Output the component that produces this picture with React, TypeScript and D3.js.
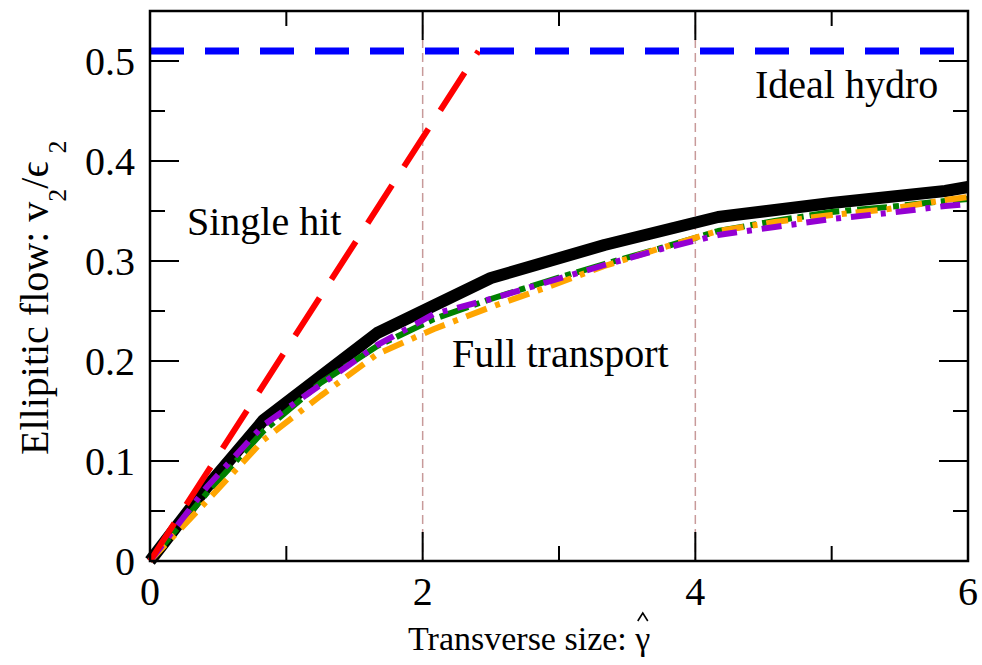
import { useEffect, useRef } from "react";
import * as d3 from "d3";

// axis ticks
const xMajor = [0, 2, 4, 6];
const xMinor = [1, 3, 5];
const yMajor = [0, 0.1, 0.2, 0.3, 0.4, 0.5];
const yMinor = [0.05, 0.15, 0.25, 0.35, 0.45];
const yLabels = ["0", "0.1", "0.2", "0.3", "0.4", "0.5"];

// black: thick curve
const blackX = [0, 0.417, 0.833, 1.667, 2.5, 3.333, 4.167, 5, 5.833, 6];
const blackY = [0, 0.074, 0.141, 0.228, 0.283, 0.316, 0.344, 0.358, 0.37, 0.374];

// full transport curves
const curveX = [0, 0.417, 0.833, 1.25, 1.667, 2.083, 2.5, 2.917, 3.333, 3.75, 4.167, 4.583, 5, 5.417, 5.833, 6];
const greenY = [0, 0.068, 0.13, 0.178, 0.215, 0.242, 0.262, 0.28, 0.297, 0.313, 0.33, 0.34, 0.349, 0.354, 0.36, 0.362];
const orangeY = [0, 0.06, 0.121, 0.165, 0.207, 0.232, 0.254, 0.274, 0.295, 0.313, 0.33, 0.339, 0.346, 0.352, 0.361, 0.364];
const purpleY = [0, 0.074, 0.136, 0.176, 0.216, 0.247, 0.262, 0.279, 0.296, 0.312, 0.326, 0.334, 0.342, 0.348, 0.355, 0.357];

// single hit (linear) and ideal hydro
const singleX = [0, 2.41];
const singleY = [0, 0.51];
const hydroX = [0, 6];
const hydroY = [0.51, 0.51];

const refX = [2, 4];

const FONT = "'Liberation Serif', 'Times New Roman', serif";

export default function App() {
  const ref = useRef<SVGSVGElement>(null);

  useEffect(() => {
    const svg = d3.select(ref.current);
    svg.selectAll("*").remove();

    const margin = { top: 11, right: 14, bottom: 104, left: 150 };
    const W = 982;
    const H = 665;
    const width = W - margin.left - margin.right;
    const height = H - margin.top - margin.bottom;

    const x = d3.scaleLinear().domain([0, 6]).range([0, width]);
    const y = d3.scaleLinear().domain([0, 0.55]).range([height, 0]);

    const g = svg
      .attr("width", W)
      .attr("height", H)
      .append("g")
      .attr("transform", `translate(${margin.left},${margin.top})`);

    const line = d3
      .line<[number, number]>()
      .x((d) => x(d[0]))
      .y((d) => y(d[1]));

    const zip = (xs: number[], ys: number[]) =>
      xs.map((v, i) => [v, ys[i]] as [number, number]);

    // vertical reference lines
    g.selectAll(".ref")
      .data(refX)
      .enter()
      .append("line")
      .attr("x1", (d) => x(d))
      .attr("x2", (d) => x(d))
      .attr("y1", 0)
      .attr("y2", height)
      .attr("stroke", "#c89a9a")
      .attr("stroke-width", 1.5)
      .attr("stroke-dasharray", "9,5");

    const series = [
      { xs: blackX, ys: blackY, color: "#000000", w: 12, dash: null },
      { xs: curveX, ys: greenY, color: "#008000", w: 6, dash: "30,6,6,6" },
      { xs: curveX, ys: orangeY, color: "#ffa500", w: 6, dash: "22,9,5,9" },
      { xs: curveX, ys: purpleY, color: "#9400d3", w: 6, dash: "20,10,5,10" },
      { xs: singleX, ys: singleY, color: "#ff0000", w: 6, dash: "45,22" },
      { xs: hydroX, ys: hydroY, color: "#0000ff", w: 7, dash: "34,21" },
    ];

    g.selectAll(".series")
      .data(series)
      .enter()
      .append("path")
      .attr("d", (d) => line(zip(d.xs, d.ys)))
      .attr("fill", "none")
      .attr("stroke", (d) => d.color)
      .attr("stroke-width", (d) => d.w)
      .attr("stroke-dasharray", (d) => d.dash)
      .attr("stroke-linejoin", "round");

    // ticks on all four sides, pointing in
    const major = 29;
    const minor = 15;
    const ticks = g.append("g").attr("stroke", "#000").attr("stroke-width", 2);
    const xt = [...xMajor.map((v) => [v, major]), ...xMinor.map((v) => [v, minor])];
    const yt = [...yMajor.map((v) => [v, major]), ...yMinor.map((v) => [v, minor])];
    xt.forEach(([v, len]) => {
      ticks.append("line").attr("x1", x(v)).attr("x2", x(v)).attr("y1", height).attr("y2", height - len);
      ticks.append("line").attr("x1", x(v)).attr("x2", x(v)).attr("y1", 0).attr("y2", len);
    });
    yt.forEach(([v, len]) => {
      ticks.append("line").attr("x1", 0).attr("x2", len).attr("y1", y(v)).attr("y2", y(v));
      ticks.append("line").attr("x1", width).attr("x2", width - len).attr("y1", y(v)).attr("y2", y(v));
    });

    g.append("rect")
      .attr("width", width)
      .attr("height", height)
      .attr("fill", "none")
      .attr("stroke", "#000")
      .attr("stroke-width", 2.5);

    // tick labels
    g.selectAll(".xl")
      .data(xMajor)
      .enter()
      .append("text")
      .attr("x", (d) => x(d))
      .attr("y", height + 44)
      .attr("text-anchor", "middle")
      .attr("font-family", FONT)
      .attr("font-size", 40)
      .text((d) => d);

    g.selectAll(".yl")
      .data(yMajor)
      .enter()
      .append("text")
      .attr("x", -15)
      .attr("y", (d) => y(d) + 14)
      .attr("text-anchor", "end")
      .attr("font-family", FONT)
      .attr("font-size", 40)
      .text((d, i) => yLabels[i]);

    // annotations
    const notes = [
      { t: "Ideal hydro", x: 755, y: 98 },
      { t: "Single hit", x: 187, y: 235 },
      { t: "Full transport", x: 452, y: 367 },
    ];
    svg
      .selectAll(".note")
      .data(notes)
      .enter()
      .append("text")
      .attr("x", (d) => d.x)
      .attr("y", (d) => d.y)
      .attr("font-family", FONT)
      .attr("font-size", 40)
      .text((d) => d.t);

    // x title, with a hat over the gamma
    const xTitle = svg
      .append("text")
      .attr("x", 408)
      .attr("y", 650)
      .attr("font-family", FONT)
      .attr("font-size", 34)
      .text("Transverse size: γ");
    const node = xTitle.node() as SVGTextElement;
    const n = node.getNumberOfChars();
    const s = node.getStartPositionOfChar(n - 1);
    const e = node.getEndPositionOfChar(n - 1);
    const cx = (s.x + e.x) / 2;
    svg
      .append("path")
      .attr("d", `M${cx - 5},621 L${cx},613 L${cx + 5},621`)
      .attr("fill", "none")
      .attr("stroke", "#000")
      .attr("stroke-width", 1.6);

    // y title
    const yt2 = svg
      .append("text")
      .attr("transform", "translate(48,455) rotate(-90)")
      .attr("font-family", FONT)
      .attr("font-size", 40);
    yt2.append("tspan").text("Ellipitic flow: v");
    yt2.append("tspan").attr("font-size", 26).attr("dy", 18).text("2");
    yt2.append("tspan").attr("dy", -18).text("/ϵ");
    yt2.append("tspan").attr("font-size", 26).attr("dy", 18).attr("dx", 8).text("2");
  }, []);

  return <svg ref={ref} style={{ display: "block", position: "absolute", left: 0, top: 0 }}></svg>;
}
